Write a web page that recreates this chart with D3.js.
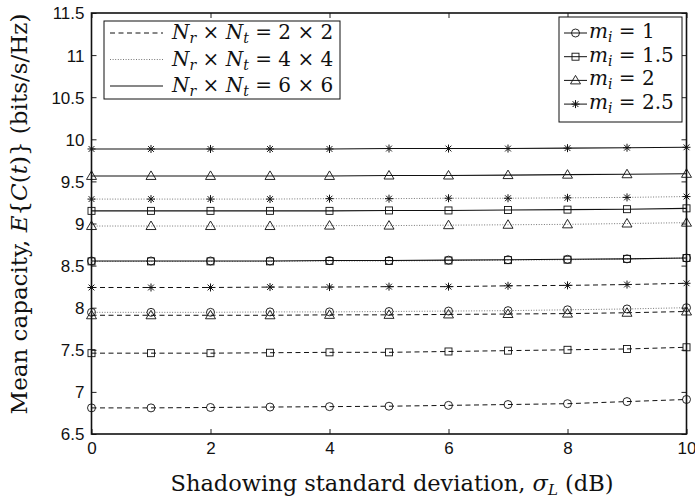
<!DOCTYPE html>
<html><head><meta charset="utf-8">
<script src="https://cdn.jsdelivr.net/npm/d3@7"></script>
<style>body{margin:0;background:#fff}svg{display:block}</style>
</head><body><svg id="c" width="695" height="500"></svg>
<script>
const sigmaL = [0,1,2,3,4,5,6,7,8,9,10];
const xTicks = [0,2,4,6,8,10];
const yTicks = [6.5,7,7.5,8,8.5,9,9.5,10,10.5,11,11.5];
const yTickLabels = ["6.5","7","7.5","8","8.5","9","9.5","10","10.5","11","11.5"];
const antennaConfigs = ["2 \u00d7 2","4 \u00d7 4","6 \u00d7 6"];
const mValues = ["1","1.5","2","2.5"];
// 2x2 (dashed)
const c22_m1   = [6.81,6.81,6.815,6.82,6.825,6.83,6.84,6.85,6.86,6.885,6.91];
const c22_m15  = [7.46,7.46,7.46,7.465,7.47,7.47,7.48,7.49,7.50,7.51,7.53];
const c22_m2   = [7.91,7.91,7.91,7.91,7.915,7.915,7.92,7.925,7.93,7.94,7.955];
const c22_m25  = [8.24,8.24,8.24,8.245,8.245,8.25,8.25,8.26,8.265,8.275,8.29];
// 4x4 (dotted)
const c44_m1   = [7.945,7.945,7.945,7.95,7.95,7.955,7.96,7.965,7.975,7.985,8.00];
const c44_m15  = [8.55,8.55,8.55,8.55,8.555,8.555,8.56,8.565,8.57,8.58,8.59];
const c44_m2   = [8.97,8.97,8.97,8.97,8.975,8.975,8.98,8.985,8.99,9.0,9.01];
const c44_m25  = [9.29,9.29,9.29,9.29,9.295,9.295,9.30,9.30,9.305,9.31,9.32];
// 6x6 (solid)
const c66_m1   = [8.555,8.555,8.555,8.555,8.56,8.56,8.565,8.57,8.575,8.58,8.59];
const c66_m15  = [9.15,9.15,9.15,9.15,9.15,9.155,9.155,9.16,9.165,9.17,9.18];
const c66_m2   = [9.565,9.565,9.565,9.565,9.565,9.57,9.57,9.575,9.58,9.585,9.59];
const c66_m25  = [9.885,9.885,9.885,9.885,9.885,9.89,9.89,9.89,9.895,9.90,9.905];

const seriesTable = [
  {cfg:0,m:0,v:c22_m1},{cfg:0,m:1,v:c22_m15},{cfg:0,m:2,v:c22_m2},{cfg:0,m:3,v:c22_m25},
  {cfg:1,m:0,v:c44_m1},{cfg:1,m:1,v:c44_m15},{cfg:1,m:2,v:c44_m2},{cfg:1,m:3,v:c44_m25},
  {cfg:2,m:0,v:c66_m1},{cfg:2,m:1,v:c66_m15},{cfg:2,m:2,v:c66_m2},{cfg:2,m:3,v:c66_m25}
];

const lineStyles = [
  {dash:"5,3.5", stroke:"#111", w:1},
  {dash:"1,1.6", stroke:"#777", w:1},
  {dash:null, stroke:"#111", w:1.1}
];

const svg = d3.select("#c");
const m = {l:91.5, r:686.5, t:13, b:434};
const x = d3.scaleLinear().domain([0,10]).range([m.l, m.r]);
const y = d3.scaleLinear().domain([6.5,11.5]).range([m.b, m.t]);

const sans = "'Liberation Sans', Arial, sans-serif";
const serif = "'DejaVu Serif', serif";

// axes
const gx = svg.append("g").attr("transform",`translate(0,${m.b})`)
  .call(d3.axisBottom(x).tickValues(xTicks).tickSize(-5).tickPadding(7).tickFormat(d3.format("d")));
const gxt = svg.append("g").attr("transform",`translate(0,${m.t})`)
  .call(d3.axisTop(x).tickValues(xTicks).tickSize(-5).tickFormat(""));
const gy = svg.append("g").attr("transform",`translate(${m.l},0)`)
  .call(d3.axisLeft(y).tickValues(yTicks).tickSize(-5).tickPadding(7).tickFormat((d,i)=>yTickLabels[i]));
const gyr = svg.append("g").attr("transform",`translate(${m.r},0)`)
  .call(d3.axisRight(y).tickValues(yTicks).tickSize(-5).tickFormat(""));
[gx,gxt,gy,gyr].forEach(g=>{
  g.select(".domain").remove();
  g.selectAll(".tick line").attr("stroke","#222").attr("stroke-width",1);
  g.selectAll("text").attr("font-family",sans).attr("font-size",17).attr("fill","#111");
});
gx.selectAll("text").attr("dy","0.75em");
gy.selectAll("text").attr("dy","0.35em");

svg.append("rect").attr("x",m.l).attr("y",m.t).attr("width",m.r-m.l).attr("height",m.b-m.t)
  .attr("fill","none").attr("stroke","#111").attr("stroke-width",1.6);

// marker drawing
function marker(g, type, cx, cy){
  if(type===0){
    g.append("circle").attr("cx",cx).attr("cy",cy).attr("r",4).attr("fill","none").attr("stroke","#111").attr("stroke-width",0.9);
  } else if(type===1){
    g.append("rect").attr("x",cx-3.5).attr("y",cy-3.5).attr("width",7).attr("height",7).attr("fill","none").attr("stroke","#111").attr("stroke-width",0.9);
  } else if(type===2){
    g.append("path").attr("d",`M${cx},${cy-5}L${cx+5},${cy+3.5}L${cx-5},${cy+3.5}Z`).attr("fill","none").attr("stroke","#111").attr("stroke-width",0.9);
  } else {
    const r=4, r2=2.9;
    g.append("path").attr("d",`M${cx-r},${cy}L${cx+r},${cy}M${cx},${cy-r}L${cx},${cy+r}M${cx-r2},${cy-r2}L${cx+r2},${cy+r2}M${cx-r2},${cy+r2}L${cx+r2},${cy-r2}`)
      .attr("fill","none").attr("stroke","#111").attr("stroke-width",1);
  }
}

const line = d3.line().x((d,i)=>x(sigmaL[i])).y(d=>y(d));
const plot = svg.append("g");
seriesTable.forEach(s=>{
  const st = lineStyles[s.cfg];
  plot.append("path").attr("d",line(s.v)).attr("fill","none").attr("stroke",st.stroke)
    .attr("stroke-width",st.w).attr("stroke-dasharray",st.dash);
});
seriesTable.forEach(s=>{
  const mg = plot.append("g");
  s.v.forEach((v,i)=>marker(mg, s.m, x(sigmaL[i]), y(v)));
});

// Legend 1
const l1 = svg.append("g");
l1.append("rect").attr("x",104).attr("y",21).attr("width",236).attr("height",78)
  .attr("fill","#fff").attr("stroke","#111").attr("stroke-width",1);
antennaConfigs.forEach((c,i)=>{
  const yy = 33 + i*26.5;
  const st = lineStyles[i];
  l1.append("line").attr("x1",110).attr("x2",163).attr("y1",yy).attr("y2",yy)
    .attr("stroke",st.stroke).attr("stroke-width",st.w).attr("stroke-dasharray",st.dash);
  const t = l1.append("text").attr("x",172).attr("y",yy+6).attr("font-family",serif).attr("font-size",20).attr("fill","#111");
  t.append("tspan").attr("font-style","italic").text("N");
  t.append("tspan").attr("font-style","italic").attr("font-size",14).attr("dy",4).text("r");
  t.append("tspan").attr("dy",-4).text(" \u00d7 ");
  t.append("tspan").attr("font-style","italic").text("N");
  t.append("tspan").attr("font-style","italic").attr("font-size",14).attr("dy",4).text("t");
  t.append("tspan").attr("dy",-4).text(" = " + c);
});

// Legend 2
const l2 = svg.append("g");
l2.append("rect").attr("x",559).attr("y",17).attr("width",123).attr("height",105)
  .attr("fill","#fff").attr("stroke","#111").attr("stroke-width",1);
mValues.forEach((mv,i)=>{
  const yy = 33 + i*23.7;
  l2.append("line").attr("x1",564).attr("x2",587).attr("y1",yy).attr("y2",yy).attr("stroke","#111").attr("stroke-width",1);
  marker(l2, i, 575.5, yy);
  const t = l2.append("text").attr("x",589).attr("y",yy+5).attr("font-family",serif).attr("font-size",20).attr("fill","#111");
  t.append("tspan").attr("font-style","italic").text("m");
  t.append("tspan").attr("font-style","italic").attr("font-size",14).attr("dy",4).text("i");
  t.append("tspan").attr("dy",-4).text(" = " + mv);
});

// axis labels
const xl = svg.append("text").attr("x",392).attr("y",491).attr("text-anchor","middle")
  .attr("font-family",serif).attr("font-size",22.5).attr("fill","#111");
xl.append("tspan").text("Shadowing standard deviation, ");
xl.append("tspan").attr("font-style","italic").text("\u03c3");
xl.append("tspan").attr("font-style","italic").attr("font-size",15).attr("dy",4).text("L");
xl.append("tspan").attr("dy",-4).text(" (dB)");

const yl = svg.append("text").attr("transform",`translate(27,214) rotate(-90)`).attr("text-anchor","middle")
  .attr("font-family",serif).attr("font-size",23).attr("fill","#111");
yl.append("tspan").text("Mean capacity, ");
yl.append("tspan").attr("font-style","italic").text("E");
yl.append("tspan").text("{");
yl.append("tspan").attr("font-style","italic").text("C");
yl.append("tspan").text("(");
yl.append("tspan").attr("font-style","italic").text("t");
yl.append("tspan").text(")} (bits/s/Hz)");
</script></body></html>
